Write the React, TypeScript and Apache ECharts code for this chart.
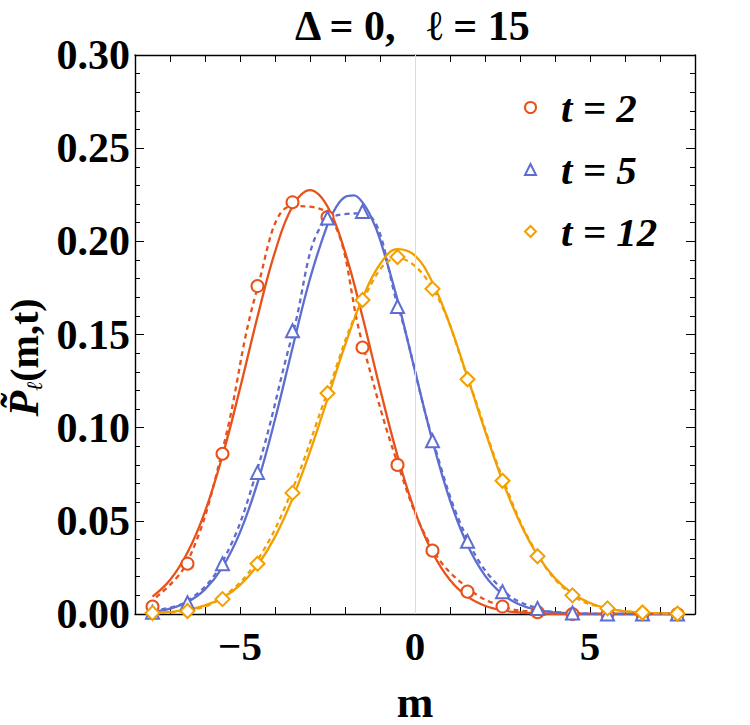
import React, { useEffect, useRef } from "react";
import * as echarts from "echarts";

// marker positions m (half-integers)
const M_POINTS = [-7.5, -6.5, -5.5, -4.5, -3.5, -2.5, -1.5, -0.5, 0.5, 1.5, 2.5, 3.5, 4.5, 5.5, 6.5, 7.5];
// marker values
const MARK_T2 = [0.004, 0.027, 0.086, 0.176, 0.221, 0.213, 0.143, 0.080, 0.034, 0.012, 0.004, 0.001, 0.0, 0.0, 0.0, 0.0];
const MARK_T5 = [0.001, 0.006, 0.027, 0.076, 0.152, 0.2125, 0.216, 0.165, 0.093, 0.039, 0.012, 0.003, 0.0005, 0.0, 0.0, 0.0];
const MARK_T12 = [0.0005, 0.0016, 0.008, 0.027, 0.065, 0.1185, 0.1685, 0.1916, 0.1745, 0.126, 0.0715, 0.031, 0.010, 0.003, 0.0008, 0.0002];

// dashed curves (sampled at the marker positions)
const DASH_M_T2 = [-7.4, -6.5, -5.5, -4.5, -3.5, -2.5, -1.5, -0.5, 0.5, 1.5, 2.5, 3.5, 4.5, 5.5, 6.5, 7.5];
const DASH_T2 = [0.009, 0.028, 0.088, 0.175, 0.219, 0.215, 0.145, 0.081, 0.035, 0.014, 0.004, 0.001, 0.0, 0.0, 0.0, 0.0];
const DASH_T5 = [0.002, 0.007, 0.028, 0.078, 0.150, 0.212, 0.215, 0.166, 0.094, 0.040, 0.013, 0.003, 0.0005, 0.0, 0.0, 0.0];
const DASH_T12 = [0.0005, 0.0018, 0.009, 0.029, 0.067, 0.119, 0.168, 0.191, 0.175, 0.127, 0.073, 0.032, 0.010, 0.003, 0.0008, 0.0002];

// solid curves sampled every 0.5 in m
const CURVE_M = [-7.5, -7, -6.5, -6, -5.5, -5, -4.5, -4, -3.5, -3, -2.5, -2, -1.5, -1, -0.5, 0, 0.5, 1, 1.5, 2, 2.5, 3, 3.5, 4, 4.5, 5, 5.5, 6, 6.5, 7, 7.5];
const CURVE_T2 = [0.0093, 0.0182, 0.0330, 0.0550, 0.0849, 0.1210, 0.1595, 0.1943, 0.2187, 0.2275, 0.2187, 0.1943, 0.1595, 0.1210, 0.0849, 0.0550, 0.0330, 0.0182, 0.0093, 0.0044, 0.0019, 0.0008, 0.0003, 0.0001, 0, 0, 0, 0, 0, 0, 0];
const CURVE_M_T5 = [-7.5, -7, -6.5, -6, -5.5, -5, -4.5, -4, -3.5, -3, -2.5, -2.25, -2, -1.75, -1.5, -1.25, -1, -0.5, 0, 0.5, 1, 1.5, 2, 2.5, 3, 3.5, 4, 4.5, 5, 5.5, 6, 6.5, 7, 7.5];
const CURVE_T5 = [0.0012, 0.0029, 0.0064, 0.0132, 0.0251, 0.0438, 0.0704, 0.1044, 0.1428, 0.1799, 0.2090, 0.2185, 0.2238, 0.2247, 0.2209, 0.2129, 0.2010, 0.1686, 0.1304, 0.0929, 0.0610, 0.0370, 0.0206, 0.0106, 0.0050, 0.0022, 0.0009, 0.0003, 0.0001, 0, 0, 0, 0, 0];
const CURVE_T12 = [0.0005, 0.0011, 0.0023, 0.0046, 0.0087, 0.0155, 0.0261, 0.0414, 0.0619, 0.0871, 0.1155, 0.1442, 0.1695, 0.1877, 0.1958, 0.1923, 0.1779, 0.1550, 0.1271, 0.0983, 0.0715, 0.0490, 0.0316, 0.0192, 0.0110, 0.0059, 0.0030, 0.0014, 0.0007, 0.0003, 0.0001];

const SERIES_NAMES = ["t = 2", "t = 5", "t = 12"];
const X_LABELS = [-5, 0, 5];

const ORANGE = "#E8521A";
const BLUE = "#5D6DD0";
const GOLD = "#F29F00";
const FONT = "'Liberation Serif', 'Times New Roman', serif";

function pairs(xs: number[], ys: number[]) {
  return xs.map((x, i) => [x, ys[i]]);
}

export default function App() {
  const ref = useRef<HTMLDivElement>(null);
  useEffect(() => {
    if (!ref.current) return;
    const chart = echarts.init(ref.current, undefined, { renderer: "svg" });
    const solid = (name: string, xs: number[], data: number[], color: string) => ({
      name,
      type: "line",
      data: pairs(xs, data),
      smooth: 0.4,
      showSymbol: false,
      symbol: "none",
      lineStyle: { color, width: 2.3 },
      z: 3,
      silent: true,
    });
    const dashed = (name: string, xs: number[], data: number[], color: string) => ({
      name,
      type: "line",
      data: pairs(xs, data),
      smooth: 0.4,
      showSymbol: false,
      symbol: "none",
      lineStyle: { color, width: 2.3, type: [5, 4] },
      z: 3,
      silent: true,
    });
    const marks = (name: string, data: number[], color: string, symbol: string, size: number) => ({
      name,
      type: "scatter",
      data: pairs(M_POINTS, data),
      symbol,
      symbolSize: size,
      itemStyle: { color, borderColor: color, borderWidth: 2, opacity: 1 },
      z: 4,
    });
    const commonX = {
      type: "value",
      min: -8,
      max: 8,
      interval: 1,
      splitLine: { show: false },
      axisLine: { show: true, onZero: false, lineStyle: { color: "#000", width: 1.4 } },
      axisTick: { show: true, inside: true, length: 7, lineStyle: { color: "#000", width: 1 } },
    };
    const commonY = {
      type: "value",
      min: 0,
      max: 0.3,
      interval: 0.05,
      splitLine: { show: false },
      axisLine: { show: true, onZero: false, lineStyle: { color: "#000", width: 1.4 } },
      axisTick: { show: true, inside: true, length: 9, lineStyle: { color: "#000", width: 1 } },
      minorTick: { show: true, splitNumber: 5, length: 5, lineStyle: { color: "#000", width: 1 } },
    };
    chart.setOption({
      animation: false,
      backgroundColor: "#fff",
      title: {
        text: "Δ = 0,   ℓ = 15",
        left: 290,
        top: 0,
        textStyle: { fontFamily: FONT, fontWeight: "bold", fontSize: 42, color: "#000" },
      },
      legend: {
        data: SERIES_NAMES,
        orient: "vertical",
        left: 519,
        top: 82,
        itemGap: 21,
        itemWidth: 11,
        itemHeight: 11,
        textStyle: {
          fontFamily: FONT,
          fontWeight: "bold",
          fontStyle: "italic",
          fontSize: 41,
          color: "#000",
          padding: [0, 0, 0, 20],
        },
      },
      grid: { left: 135, right: 55, top: 55, bottom: 111, containLabel: false, outerBoundsMode: "none" },
      xAxis: [
        {
          ...commonX,
          position: "bottom",
          name: "m",
          nameLocation: "middle",
          nameGap: 66,
          nameTextStyle: { fontFamily: FONT, fontWeight: "bold", fontSize: 44, color: "#000" },
          axisLabel: {
            margin: 11,
            fontFamily: FONT,
            fontWeight: "bold",
            fontSize: 41,
            color: "#000",
            formatter: (v: number) =>
              X_LABELS.indexOf(v) >= 0 ? (v < 0 ? "\u2212" + Math.abs(v) : String(v)) : "",
          },
        },
        { ...commonX, position: "top", axisLabel: { show: false } },
      ],
      yAxis: [
        {
          ...commonY,
          position: "left",
          name: "{p|P\u0303}{s|ℓ}{n|(m,t)}",
          nameLocation: "middle",
          nameRotate: 90,
          nameGap: 90,
          nameTextStyle: {
            color: "#000",
            padding: [0, 46, 0, 0],
            rich: {
              p: { fontFamily: FONT, fontWeight: "bold", fontStyle: "italic", fontSize: 42, color: "#000" },
              s: { fontFamily: FONT, fontStyle: "italic", fontSize: 22, color: "#000", verticalAlign: "bottom", padding: [16, 0, 0, 0] },
              n: { fontFamily: FONT, fontWeight: "bold", fontSize: 40, color: "#000" },
            },
          },
          axisLabel: {
            margin: 5,
            fontFamily: FONT,
            fontWeight: "bold",
            fontSize: 42,
            color: "#000",
            formatter: (v: number) => v.toFixed(2),
          },
        },
        { ...commonY, position: "right", axisLabel: { show: false } },
      ],
      series: [
        {
          name: "zero",
          type: "line",
          data: [],
          silent: true,
          markLine: {
            silent: true,
            symbol: ["none", "none"],
            label: { show: false },
            lineStyle: { color: "#dcdcdc", type: "solid", width: 1 },
            data: [{ xAxis: 0 }],
          },
          z: 1,
        },
        solid("solid2", CURVE_M, CURVE_T2, ORANGE),
        solid("solid5", CURVE_M_T5, CURVE_T5, BLUE),
        solid("solid12", CURVE_M, CURVE_T12, GOLD),
        dashed("dash2", DASH_M_T2, DASH_T2, ORANGE),
        dashed("dash5", M_POINTS, DASH_T5, BLUE),
        dashed("dash12", M_POINTS, DASH_T12, GOLD),
        marks(SERIES_NAMES[0], MARK_T2, ORANGE, "emptyCircle", 12),
        marks(SERIES_NAMES[1], MARK_T5, BLUE, "emptyTriangle", 13),
        marks(SERIES_NAMES[2], MARK_T12, GOLD, "emptyDiamond", 14),
      ],
    });
    return () => chart.dispose();
  }, []);
  return (
    <div
      ref={ref}
      style={{ position: "fixed", left: 0, top: 0, width: 750, height: 725, background: "#fff" }}
    />
  );
}
